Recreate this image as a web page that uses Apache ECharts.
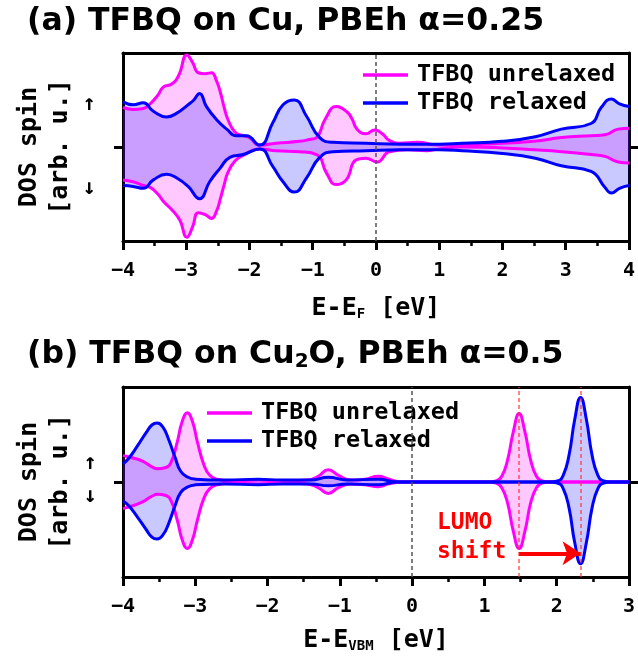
<!DOCTYPE html>
<html>
<head>
<meta charset="utf-8">
<script src="https://cdn.jsdelivr.net/npm/echarts@6/dist/echarts.min.js"></script>
<style>
  html, body { margin: 0; padding: 0; background: #fff; }
  #chart { width: 638px; height: 656px; }
</style>
</head>
<body>
<div id="chart"></div>
<script>
// Spin-resolved DOS of TFBQ, spin up > 0, spin down < 0, pairs of [energy (eV), DOS (arb. u.)]

// (a) TFBQ on Cu, PBEh alpha = 0.25, energies relative to E_F
const cuUnrelaxedUp = [
  [-4.0, 0.42], [-3.84, 0.40], [-3.68, 0.41], [-3.57, 0.46], [-3.45, 0.55], [-3.36, 0.64],
  [-3.23, 0.67], [-3.12, 0.76], [-2.99, 0.98], [-2.90, 0.90], [-2.81, 0.79], [-2.70, 0.78],
  [-2.60, 0.79], [-2.52, 0.70], [-2.46, 0.58], [-2.40, 0.42], [-2.34, 0.29], [-2.23, 0.16],
  [-2.10, 0.12], [-2.00, 0.10], [-1.84, 0.02], [-1.58, 0.04], [-1.21, 0.06], [-1.05, 0.08],
  [-0.94, 0.10], [-0.80, 0.30], [-0.63, 0.43], [-0.47, 0.38], [-0.38, 0.30], [-0.30, 0.19],
  [-0.16, 0.14], [-0.02, 0.18], [0.10, 0.14], [0.21, 0.07], [0.37, 0.04], [0.65, 0.05],
  [1.00, 0.02], [1.36, 0.02], [1.70, 0.03], [2.00, 0.04], [2.50, 0.06], [2.93, 0.10],
  [3.40, 0.12], [3.62, 0.13], [3.83, 0.19], [4.0, 0.20]
];
const cuUnrelaxedDown = [
  [-4.0, -0.35], [-3.84, -0.37], [-3.68, -0.41], [-3.57, -0.43], [-3.45, -0.50], [-3.36, -0.58],
  [-3.21, -0.68], [-3.10, -0.78], [-2.99, -0.96], [-2.90, -0.85], [-2.81, -0.70], [-2.70, -0.72],
  [-2.60, -0.76], [-2.52, -0.68], [-2.46, -0.55], [-2.40, -0.40], [-2.34, -0.27], [-2.23, -0.15],
  [-2.10, -0.09], [-1.84, -0.02], [-1.58, -0.04], [-1.21, -0.05], [-0.94, -0.08], [-0.78, -0.28],
  [-0.63, -0.40], [-0.47, -0.35], [-0.32, -0.14], [-0.16, -0.12], [0.02, -0.16], [0.21, -0.05],
  [0.50, -0.03], [0.80, -0.04], [1.00, -0.02], [1.36, 0.00], [2.00, -0.01], [2.50, -0.03],
  [2.93, -0.05], [3.40, -0.08], [3.62, -0.10], [3.83, -0.16], [4.0, -0.17]
];
const cuRelaxedUp = [
  [-4.0, 0.48], [-3.84, 0.45], [-3.68, 0.47], [-3.52, 0.38], [-3.31, 0.32], [-3.15, 0.36],
  [-2.97, 0.45], [-2.88, 0.50], [-2.79, 0.57], [-2.68, 0.43], [-2.52, 0.29], [-2.36, 0.19],
  [-2.21, 0.12], [-2.05, 0.12], [-1.84, 0.02], [-1.63, 0.26], [-1.47, 0.45], [-1.29, 0.50],
  [-1.10, 0.33], [-0.89, 0.10], [-0.68, 0.05], [-0.16, 0.04], [0.37, 0.03], [1.00, 0.03],
  [1.36, 0.04], [1.99, 0.06], [2.52, 0.11], [2.93, 0.19], [3.40, 0.25], [3.56, 0.42],
  [3.72, 0.51], [3.85, 0.46], [4.0, 0.43]
];
const cuRelaxedDown = [
  [-4.0, -0.41], [-3.84, -0.42], [-3.68, -0.44], [-3.52, -0.35], [-3.31, -0.29], [-3.15, -0.33],
  [-2.97, -0.42], [-2.79, -0.55], [-2.63, -0.37], [-2.47, -0.23], [-2.31, -0.11], [-2.10, -0.08],
  [-1.84, -0.02], [-1.63, -0.21], [-1.47, -0.37], [-1.29, -0.48], [-1.10, -0.33], [-0.89, -0.11],
  [-0.68, -0.05], [-0.16, -0.04], [0.37, -0.03], [1.00, -0.03], [1.36, -0.04], [2.00, -0.07],
  [2.52, -0.12], [2.93, -0.20], [3.40, -0.26], [3.62, -0.43], [3.72, -0.49], [3.85, -0.44],
  [4.0, -0.41]
];

// (b) TFBQ on Cu2O, PBEh alpha = 0.5, energies relative to the VBM
const cu2oUnrelaxedUp = [
  [-4.0, 0.28], [-3.90, 0.26], [-3.73, 0.22], [-3.60, 0.16], [-3.52, 0.14], [-3.42, 0.15],
  [-3.34, 0.20], [-3.25, 0.42], [-3.18, 0.64], [-3.11, 0.73], [-3.04, 0.64], [-2.97, 0.42],
  [-2.88, 0.18], [-2.80, 0.07], [-2.70, 0.03], [-2.50, 0.01], [-2.13, 0.02], [-1.80, 0.01],
  [-1.45, 0.02], [-1.30, 0.06], [-1.16, 0.13], [-1.02, 0.07], [-0.85, 0.02], [-0.65, 0.03],
  [-0.47, 0.06], [-0.32, 0.03], [-0.15, 0.00], [1.05, 0.00], [1.16, 0.01], [1.24, 0.06],
  [1.32, 0.23], [1.40, 0.53], [1.48, 0.72], [1.56, 0.53], [1.64, 0.23], [1.72, 0.06],
  [1.80, 0.01], [1.90, 0.00], [3.0, 0.00]
];
const cu2oUnrelaxedDown = [
  [-4.0, -0.28], [-3.90, -0.26], [-3.73, -0.21], [-3.60, -0.15], [-3.52, -0.13], [-3.42, -0.14],
  [-3.34, -0.19], [-3.25, -0.40], [-3.18, -0.61], [-3.11, -0.70], [-3.04, -0.61], [-2.97, -0.40],
  [-2.88, -0.17], [-2.80, -0.07], [-2.70, -0.03], [-2.50, -0.01], [-2.13, -0.02], [-1.80, -0.01],
  [-1.45, -0.02], [-1.30, -0.06], [-1.16, -0.12], [-1.02, -0.06], [-0.85, -0.02], [-0.65, -0.03],
  [-0.47, -0.05], [-0.32, -0.02], [-0.15, 0.00], [1.05, 0.00], [1.16, -0.01], [1.24, -0.06],
  [1.32, -0.22], [1.40, -0.52], [1.48, -0.70], [1.56, -0.52], [1.64, -0.22], [1.72, -0.06],
  [1.80, -0.01], [1.90, 0.00], [3.0, 0.00]
];
const cu2oRelaxedUp = [
  [-4.0, 0.19], [-3.92, 0.25], [-3.80, 0.38], [-3.68, 0.52], [-3.60, 0.60], [-3.53, 0.62],
  [-3.45, 0.58], [-3.37, 0.45], [-3.28, 0.26], [-3.20, 0.11], [-3.10, 0.05], [-3.00, 0.03],
  [-2.60, 0.02], [-2.13, 0.03], [-1.80, 0.02], [-1.40, 0.02], [-1.16, 0.05], [-0.90, 0.02],
  [-0.47, 0.03], [-0.20, 0.00], [1.90, 0.00], [2.01, 0.01], [2.09, 0.07], [2.17, 0.28],
  [2.25, 0.66], [2.33, 0.89], [2.41, 0.66], [2.49, 0.28], [2.57, 0.07], [2.65, 0.01],
  [2.75, 0.00], [3.0, 0.00]
];
const cu2oRelaxedDown = [
  [-4.0, -0.20], [-3.92, -0.25], [-3.80, -0.37], [-3.68, -0.50], [-3.60, -0.58], [-3.53, -0.60],
  [-3.45, -0.56], [-3.37, -0.44], [-3.28, -0.25], [-3.20, -0.11], [-3.10, -0.05], [-3.00, -0.03],
  [-2.60, -0.02], [-2.13, -0.03], [-1.80, -0.02], [-1.40, -0.02], [-1.16, -0.04], [-0.90, -0.02],
  [-0.47, -0.03], [-0.20, 0.00], [1.90, 0.00], [2.01, -0.01], [2.09, -0.07], [2.17, -0.27],
  [2.25, -0.64], [2.33, -0.86], [2.41, -0.64], [2.49, -0.27], [2.57, -0.07], [2.65, -0.01],
  [2.75, 0.00], [3.0, 0.00]
];

// LUMO peak positions on Cu2O and the arrow height between them
const lumoUnrelaxed = 1.48;
const lumoRelaxed = 2.33;
const shiftArrowLevel = -0.75;

// Axis ticks
const xTicksCu = [-4, -3, -2, -1, 0, 1, 2, 3, 4];
const xTicksCu2O = [-4, -3, -2, -1, 0, 1, 2, 3];
const seriesNames = ['TFBQ unrelaxed', 'TFBQ relaxed'];

const MONO = '"DejaVu Sans Mono", monospace';
const SANS = '"DejaVu Sans", sans-serif';
const MAGENTA = '#ff00ff';
const BLUE = '#0000ff';
const MAGENTA_FILL = 'rgba(255, 0, 255, 0.3)';
const BLUE_FILL = 'rgba(0, 0, 255, 0.3)';
const LUMO_GUIDE = { color: 'rgba(255, 50, 50, 0.8)', type: [4, 3], width: 1.5 };

const tickFmt = v => (v < 0 ? '\u2212' + Math.abs(v) : String(v));

function bottomAxis(gridIndex, ticks, name, nameGap) {
  return {
    gridIndex, type: 'value', position: 'bottom',
    min: ticks[0], max: ticks[ticks.length - 1], interval: 1,
    axisLine: { show: true, onZero: false, lineStyle: { color: '#000', width: 3 } },
    axisTick: { show: true, inside: false, length: 9, lineStyle: { color: '#000', width: 3 } },
    minorTick: { show: true, splitNumber: 2, length: 5, lineStyle: { color: '#000', width: 2.5 } },
    splitLine: { show: false }, minorSplitLine: { show: false },
    axisLabel: { margin: 20, color: '#000', fontFamily: MONO, fontWeight: 'bold', fontSize: 20, formatter: tickFmt },
    name, nameLocation: 'middle', nameGap,
    nameTextStyle: {
      color: '#000',
      rich: {
        m: { fontFamily: MONO, fontWeight: 'bold', fontSize: 25, color: '#000' },
        s: { fontFamily: MONO, fontWeight: 'bold', fontSize: 14, color: '#000', padding: [11, 0, 0, 0] }
      }
    }
  };
}
function topAxis(gridIndex, ticks) {
  return {
    gridIndex, type: 'value', position: 'top',
    min: ticks[0], max: ticks[ticks.length - 1],
    axisLine: { show: true, onZero: false, lineStyle: { color: '#000', width: 3 } },
    axisTick: { show: false }, axisLabel: { show: false }, splitLine: { show: false }
  };
}
function sideAxis(gridIndex, position, withName) {
  const ax = {
    gridIndex, type: 'value', position, min: -1, max: 1,
    axisLine: { show: true, onZero: false, lineStyle: { color: '#000', width: 3 } },
    axisTick: { show: true, inside: false, customValues: [0], length: 9, lineStyle: { color: '#000', width: 3 } },
    axisLabel: { show: false }, splitLine: { show: false }
  };
  if (withName) {
    ax.name = 'DOS spin\n[arb. u.]';
    ax.nameLocation = 'middle';
    ax.nameRotate = 90;
    ax.nameGap = 47;
    ax.nameTextStyle = { color: '#000', fontFamily: MONO, fontWeight: 'bold', fontSize: 25, lineHeight: 31 };
  }
  return ax;
}
function dos(name, data, color, fill, axisIndex, extra) {
  return Object.assign({
    type: 'line', name, data, xAxisIndex: axisIndex, yAxisIndex: axisIndex,
    color, symbol: 'none', showSymbol: false, smooth: 0.5,
    lineStyle: { color, width: 3 }, itemStyle: { color },
    areaStyle: { color: fill, origin: 'auto' }, silent: true, animation: false
  }, extra || {});
}
const zeroLine = { xAxis: 0, lineStyle: { color: '#555', type: [4, 3], width: 1.5 } };
const legendText = { fontFamily: MONO, fontWeight: 'bold', fontSize: 23.5, color: '#000', lineHeight: 24, padding: [0, 0, 0, 4] };
const arrowFont = 'bold 22px ' + MONO;

const option = {
  backgroundColor: '#fff',
  animation: false,
  title: [
    {
      text: '(a) TFBQ on Cu, PBEh \u03b1=0.25', left: 27, top: 6, padding: 0,
      textStyle: { fontFamily: SANS, fontWeight: 'bold', fontSize: 31.5, color: '#000' }
    },
    {
      text: '{t|(b) TFBQ on Cu}{s|2}{t|O, PBEh \u03b1=0.5}', left: 27, top: 338, padding: 0,
      textStyle: {
        rich: {
          t: { fontFamily: SANS, fontWeight: 'bold', fontSize: 31.5, color: '#000' },
          s: { fontFamily: SANS, fontWeight: 'bold', fontSize: 20, color: '#000', padding: [14, 0, 0, 0] }
        }
      }
    }
  ],
  legend: [
    {
      data: seriesNames, orient: 'vertical', left: 358, top: 58, itemGap: 4,
      icon: 'rect', itemWidth: 45, itemHeight: 3.5, textStyle: legendText
    },
    {
      data: seriesNames, orient: 'vertical', left: 202, top: 396, itemGap: 4,
      icon: 'rect', itemWidth: 45, itemHeight: 3.5, textStyle: legendText
    }
  ],
  grid: [
    { left: 123, top: 53, width: 507, height: 188 },
    { left: 123, top: 387, width: 507, height: 190 }
  ],
  xAxis: [
    bottomAxis(0, xTicksCu, '{m|E-E}{s|F}{m| [eV]}', 55),
    bottomAxis(1, xTicksCu2O, '{m|E-E}{s|VBM}{m| [eV]}', 51),
    topAxis(0, xTicksCu),
    topAxis(1, xTicksCu2O)
  ],
  yAxis: [
    sideAxis(0, 'left', true),
    sideAxis(1, 'left', true),
    sideAxis(0, 'right', false),
    sideAxis(1, 'right', false)
  ],
  series: [
    dos(seriesNames[0], cuUnrelaxedUp, MAGENTA, MAGENTA_FILL, 0),
    dos(seriesNames[0], cuUnrelaxedDown, MAGENTA, MAGENTA_FILL, 0),
    dos(seriesNames[1], cuRelaxedUp, BLUE, BLUE_FILL, 0),
    dos(seriesNames[1], cuRelaxedDown, BLUE, BLUE_FILL, 0, {
      markLine: { silent: true, symbol: 'none', label: { show: false }, data: [zeroLine] }
    }),
    dos(seriesNames[0], cu2oUnrelaxedUp, MAGENTA, MAGENTA_FILL, 1),
    dos(seriesNames[0], cu2oUnrelaxedDown, MAGENTA, MAGENTA_FILL, 1),
    dos(seriesNames[1], cu2oRelaxedUp, BLUE, BLUE_FILL, 1),
    dos(seriesNames[1], cu2oRelaxedDown, BLUE, BLUE_FILL, 1, {
      markLine: {
        silent: true, symbol: 'none', label: { show: false },
        data: [
          zeroLine,
          { xAxis: lumoUnrelaxed, lineStyle: LUMO_GUIDE },
          { xAxis: lumoRelaxed, lineStyle: LUMO_GUIDE }
        ]
      }
    }),
    // LUMO shift arrow between the two LUMO peaks
    {
      type: 'line', xAxisIndex: 1, yAxisIndex: 1, data: [], silent: true, animation: false,
      markLine: {
        silent: true, symbol: ['none', 'arrow'], symbolSize: 18, label: { show: false },
        lineStyle: { color: '#ff0000', width: 4, type: 'solid' },
        data: [[{ coord: [lumoUnrelaxed, shiftArrowLevel] }, { coord: [lumoRelaxed, shiftArrowLevel] }]]
      }
    }
  ],
  graphic: [
    { type: 'text', x: 89, y: 104, style: { text: '\u2191', font: arrowFont, fill: '#000', textAlign: 'center', textVerticalAlign: 'middle' } },
    { type: 'text', x: 89, y: 188, style: { text: '\u2193', font: arrowFont, fill: '#000', textAlign: 'center', textVerticalAlign: 'middle' } },
    { type: 'text', x: 90, y: 463, style: { text: '\u2191', font: arrowFont, fill: '#000', textAlign: 'center', textVerticalAlign: 'middle' } },
    { type: 'text', x: 90, y: 496, style: { text: '\u2193', font: arrowFont, fill: '#000', textAlign: 'center', textVerticalAlign: 'middle' } },
    { type: 'text', x: 437, y: 538, style: { text: 'LUMO\nshift', font: 'bold 23px ' + MONO, lineHeight: 29, fill: '#ff0000', textAlign: 'left', textVerticalAlign: 'middle' } }
  ]
};

const chart = echarts.init(document.getElementById('chart'), null, { renderer: 'canvas' });
chart.setOption(option);
</script>
</body>
</html>
